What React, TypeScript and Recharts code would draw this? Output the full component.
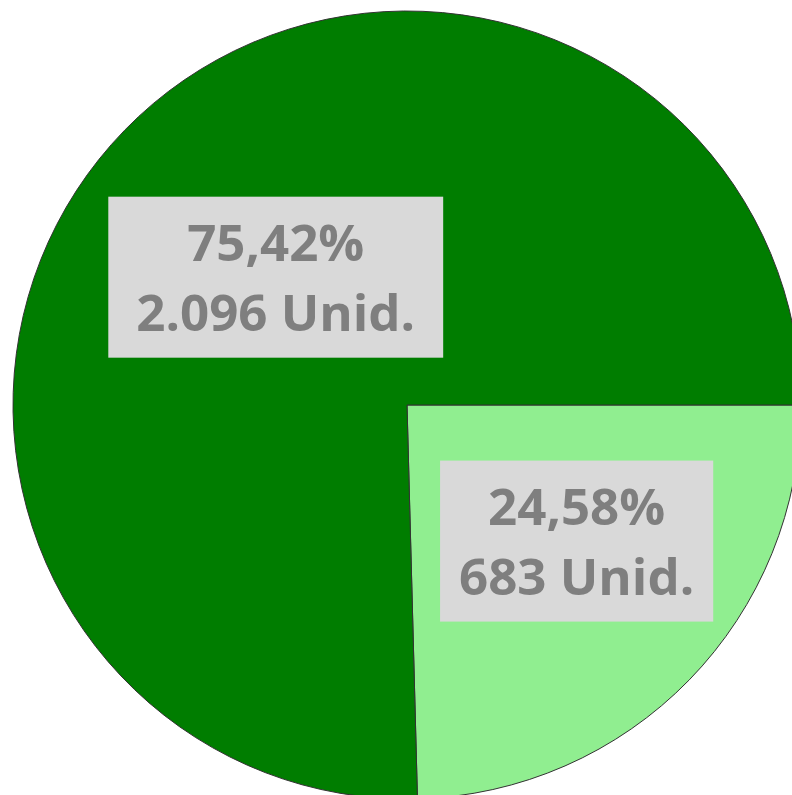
import { PieChart, Pie, Cell } from "recharts";

const names = ["Sim", "Não"];
const units = [683, 2096];
const COLORS = ["#90ee90", "#007d00"];

const total = units.reduce((a, b) => a + b, 0);
const pieData = names.map((name, i) => ({ name, value: units[i] }));

// label placement per slice (radius ratio, angle shift in degrees, box padding)
const LABEL_R = [0.552, 0.465];
const LABEL_SHIFT = [5.5, 0];
const LABEL_PAD = [38, 56];

const FONT = "bold 51px 'Open Sans'";

function measure(text: string) {
  const ctx = document.createElement("canvas").getContext("2d");
  if (!ctx) return text.length * 26;
  ctx.font = FONT;
  return ctx.measureText(text).width;
}

function fmtUnits(v: number) {
  return String(v).replace(/\B(?=(\d{3})+(?!\d))/g, ".");
}

function renderLabel(props: any) {
  const { cx, cy, midAngle, outerRadius, index, value } = props;
  const ang = ((midAngle + LABEL_SHIFT[index]) * Math.PI) / 180;
  const r = outerRadius * LABEL_R[index];
  const x = cx + r * Math.cos(ang);
  const y = cy - r * Math.sin(ang);
  const line1 = ((value / total) * 100).toFixed(2).replace(".", ",") + "%";
  const line2 = fmtUnits(value) + " Unid.";
  const w = Math.max(measure(line1), measure(line2)) + LABEL_PAD[index];
  const h = 161;
  return (
    <g key={index}>
      <rect x={x - w / 2} y={y - h / 2} width={w} height={h} fill="#d9d9d9" />
      <text x={x} y={y - 16} textAnchor="middle" fill="#7f7f7f" style={{ font: FONT }}>
        {line1}
      </text>
      <text x={x} y={y + 54} textAnchor="middle" fill="#7f7f7f" style={{ font: FONT }}>
        {line2}
      </text>
    </g>
  );
}

export default function App() {
  return (
    <div
      style={{
        position: "absolute",
        left: 0,
        top: 0,
        width: 792,
        height: 795,
        overflow: "hidden",
        background: "#fff",
      }}
    >
      <PieChart width={792} height={795} margin={{ top: 0, right: 0, bottom: 0, left: 0 }}>
        <Pie
          data={pieData}
          dataKey="value"
          cx={407}
          cy={405}
          outerRadius={394}
          startAngle={0}
          endAngle={-360}
          stroke="#333333"
          strokeWidth={1}
          label={renderLabel}
          labelLine={false}
          isAnimationActive={false}
        >
          {pieData.map((entry, index) => (
            <Cell key={index} fill={COLORS[index]} />
          ))}
        </Pie>
      </PieChart>
    </div>
  );
}
